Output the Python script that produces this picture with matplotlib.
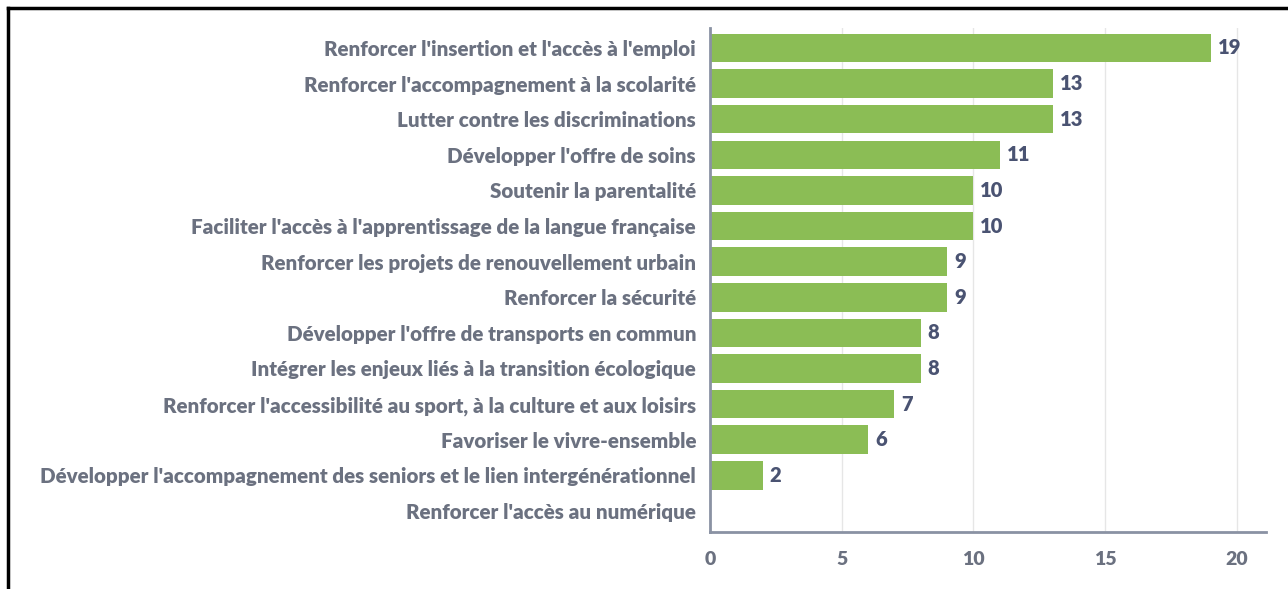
import matplotlib.pyplot as plt
from matplotlib.lines import Line2D

categories = [
    "Renforcer l'insertion et l'accès à l'emploi",
    "Renforcer l'accompagnement à la scolarité",
    "Lutter contre les discriminations",
    "Développer l'offre de soins",
    "Soutenir la parentalité",
    "Faciliter l'accès à l'apprentissage de la langue française",
    "Renforcer les projets de renouvellement urbain",
    "Renforcer la sécurité",
    "Développer l'offre de transports en commun",
    "Intégrer les enjeux liés à la transition écologique",
    "Renforcer l'accessibilité au sport, à la culture et aux loisirs",
    "Favoriser le vivre-ensemble",
    "Développer l'accompagnement des seniors et le lien intergénérationnel",
    "Renforcer l'accès au numérique",
]
values = [19, 13, 13, 11, 10, 10, 9, 9, 8, 8, 7, 6, 2, 0]
xticks = [0, 5, 10, 15, 20]

plt.rcParams['font.family'] = ['Lato', 'DejaVu Sans']
plt.rcParams['font.weight'] = 'bold'

fig = plt.figure(figsize=(12.88, 5.89), dpi=100)
ax = fig.add_axes([0.5512, 0.0968, 0.4317, 0.8557])

ypos = list(range(len(categories)))
ax.barh(ypos, values, height=0.8, color="#8bbd55", zorder=3)

# étiquettes de valeur
for y, v in zip(ypos, values):
    if v > 0:
        ax.annotate(str(v), (v, y), xytext=(5, 0), textcoords="offset points",
                    va="center", ha="left", fontsize=14.5, fontweight="heavy",
                    color="#4a5372")

ax.set_yticks(ypos)
ax.set_yticklabels(categories, fontsize=14.8, fontweight="heavy", color="#6b7180")
ax.set_xticks(xticks)
ax.set_xticklabels([str(t) for t in xticks], fontsize=14, fontweight="heavy", color="#6b7180")
ax.tick_params(axis="y", length=0, pad=10)
ax.tick_params(axis="x", length=0, pad=14)

ax.set_xlim(0, 21.1)
ax.set_ylim(13.59, -0.56)

ax.grid(axis="x", color="#e6e6e6", linewidth=1, zorder=0)
for side in ["top", "right"]:
    ax.spines[side].set_visible(False)
for side in ["left", "bottom"]:
    ax.spines[side].set_color("#8a92a3")
    ax.spines[side].set_linewidth(2)
    ax.spines[side].set_zorder(4)

# cadre noir (gauche + haut)
fig.add_artist(Line2D([8 / 1288, 8 / 1288], [0, 1 - 8 / 589], color="black", linewidth=2.5))
fig.add_artist(Line2D([8 / 1288, 1], [1 - 8 / 589, 1 - 8 / 589], color="black", linewidth=2.5))

fig.savefig("out.png", dpi=100)
